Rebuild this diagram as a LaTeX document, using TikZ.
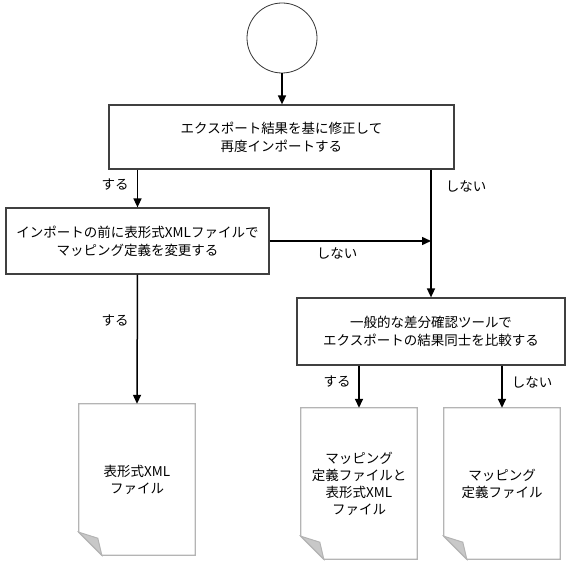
\documentclass[tikz,border=0pt]{standalone}
\usepackage{fontspec}
\usepackage{xcolor}
\usepackage{tikz}
\usetikzlibrary{arrows.meta}
\newfontfamily\jpfont{Noto Sans CJK JP}
\definecolor{boxline}{HTML}{404040}
\definecolor{docline}{HTML}{B4B4B4}
\definecolor{fold}{HTML}{C8C8C8}
\tikzset{
  startnode/.style={draw=black!80, line width=0.8pt, circle, minimum size=70pt, inner sep=0pt},
  stepbox/.style={draw=boxline, line width=1.2pt, fill=white, align=center, inner sep=0pt, font=\jpfont\fontsize{13.5}{18}\selectfont},
  docnode/.style={minimum width=116pt, minimum height=151pt, inner sep=0pt, align=center, font=\jpfont\fontsize{13.5}{17}\selectfont},
  docframe/.style={draw=docline, line width=1.3pt},
  foldcorner/.style={draw=docline, line width=1pt, fill=fold},
  flow/.style={draw=black, line width=1.5pt, -{Triangle[length=9pt,width=8pt]}},
  lab/.style={font=\jpfont\fontsize{13.5}{16}\selectfont},
}

\begin{document}
\begin{tikzpicture}[x=1pt,y=-1pt]
\useasboundingbox (0,0) rectangle (566,561);

% start and steps
\node[startnode] (start) at (282,38) {};
\node[stepbox, minimum width=345pt, minimum height=64pt] (box1) at (281.5,137)
  {エクスポート結果を基に修正して\\再度インポートする};
\node[stepbox, minimum width=263pt, minimum height=66pt] (box2) at (137.5,241)
  {インポートの前に表形式XMLファイルで\\マッピング定義を変更する};
\node[stepbox, minimum width=268pt, minimum height=67pt] (box3) at (431,331.5)
  {一般的な差分確認ツールで\\エクスポートの結果同士を比較する};

% documents
\node[docnode] (doc1) at (137,479.5) {表形式XML\\ファイル};
\node[docnode] (doc2) at (359,483.5) {マッピング\\定義ファイルと\\表形式XML\\ファイル};
\node[docnode] (doc3) at (502,483.5) {マッピング\\定義ファイル};
\foreach \d in {doc1,doc2,doc3} {
  \draw[docframe] (\d.north west) -- (\d.north east) -- (\d.south east)
    -- ([xshift=23pt]\d.south west) -- ([yshift=23pt]\d.south west) -- cycle;
  \draw[foldcorner] ([yshift=23pt]\d.south west) -- ([xshift=19pt,yshift=17pt]\d.south west)
    -- ([xshift=23pt]\d.south west) -- cycle;
}

% connectors
\draw[flow] (start.south) -- (start.south |- box1.north);
\draw[flow] (box1.south -| box2.north) -- (box2.north);
\draw[flow] (box1.south -| box3.north) -- (box3.north);
\draw[flow] (box2.east) -- (box2.east -| box3.north);
\draw[flow] (box2.south) -- (doc1.north);
\draw[flow] (box3.south -| doc2.north) -- (doc2.north);
\draw[flow] (box3.south -| doc3.north) -- (doc3.north);

% branch labels
\node[lab] (yes1) at (115,185) {する};
\node[lab] (no1) at (466,186) {しない};
\node[lab] (no2) at (337,253) {しない};
\node[lab] (yes2) at (115,321) {する};
\node[lab] (yes3) at (337,382) {する};
\node[lab] (no3) at (532,382) {しない};
\end{tikzpicture}
\end{document}
